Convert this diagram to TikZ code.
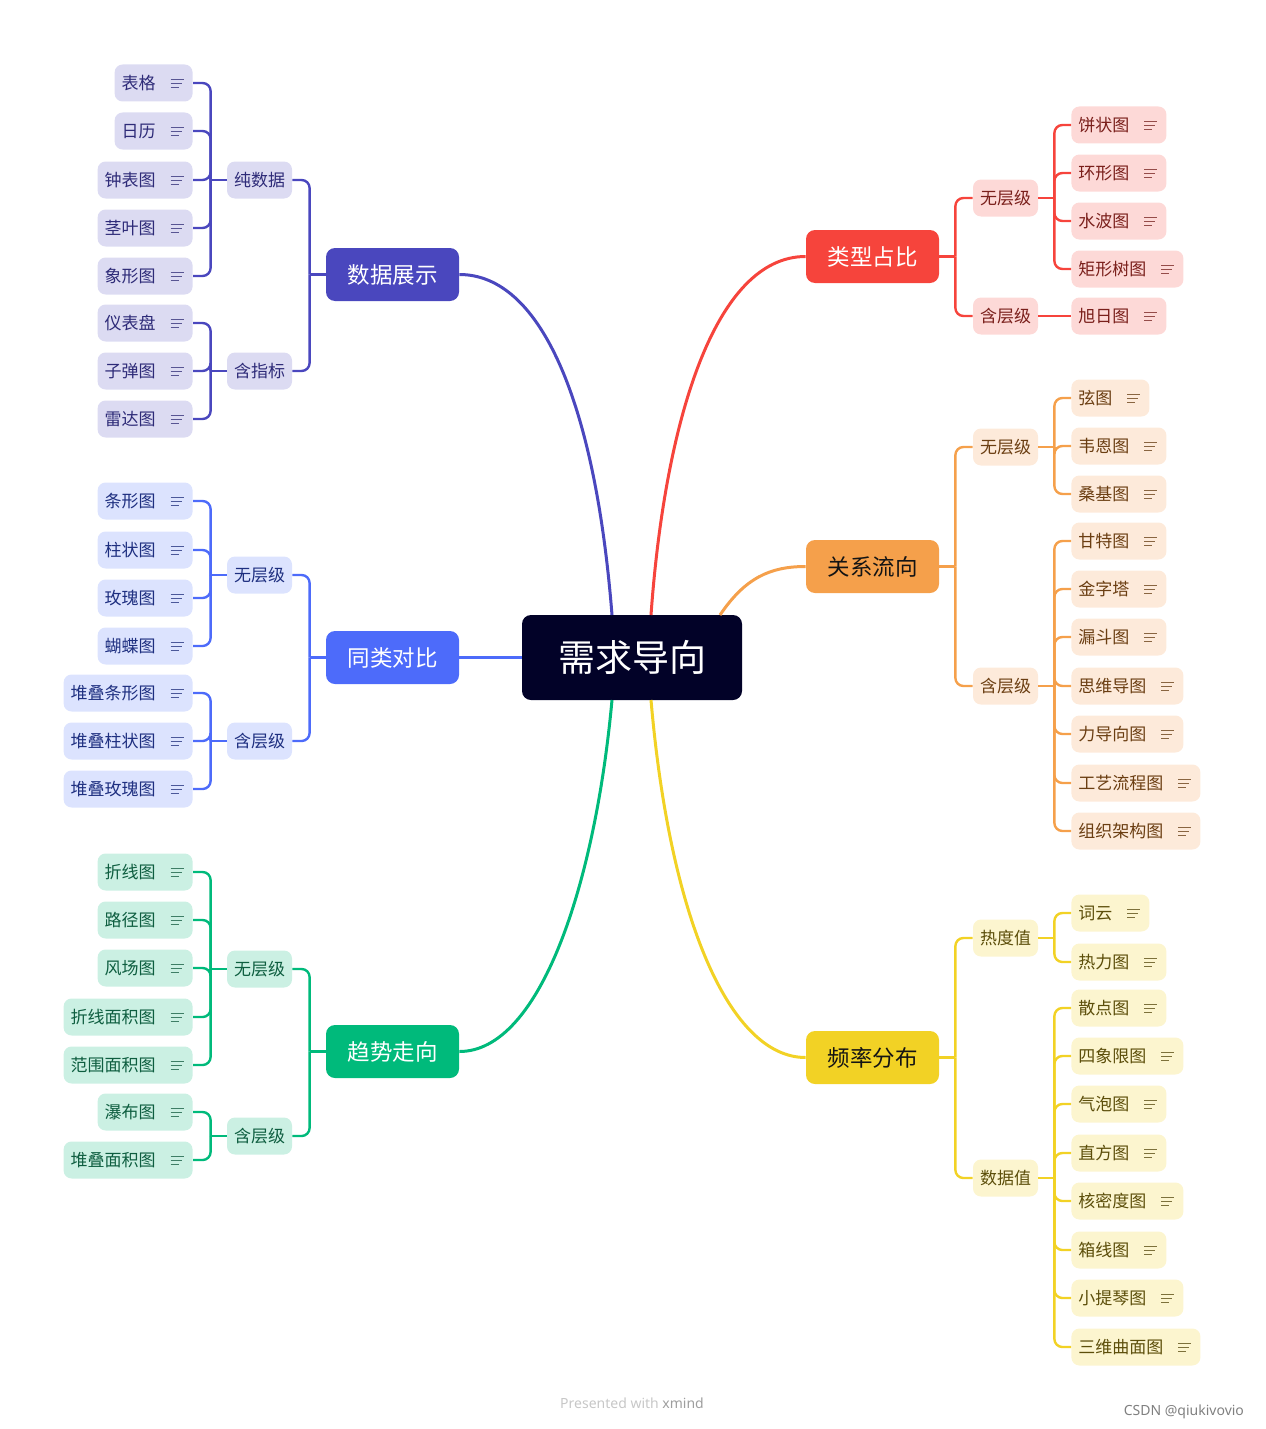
\documentclass[tikz,border=0pt]{standalone}
\usepackage{fontspec}
\setmainfont{Noto Sans CJK SC}
\newfontfamily\wmfont{Noto Sans}
\usepackage{xcolor}
\usetikzlibrary{positioning}

% branch colours: line / leaf fill / leaf text / head text
\definecolor{rootFill}{HTML}{020228}
\definecolor{sjLine}{HTML}{4A47BE}\definecolor{sjFill}{HTML}{DCDBF2}\definecolor{sjText}{HTML}{2E2B78}\colorlet{sjHead}{white}
\definecolor{tlLine}{HTML}{4D6BFA}\definecolor{tlFill}{HTML}{DCE3FE}\definecolor{tlText}{HTML}{1E2F80}\colorlet{tlHead}{white}
\definecolor{qsLine}{HTML}{00BA7B}\definecolor{qsFill}{HTML}{CBF0E3}\definecolor{qsText}{HTML}{0E5E40}\colorlet{qsHead}{white}
\definecolor{lxLine}{HTML}{F6443C}\definecolor{lxFill}{HTML}{FDD9D7}\definecolor{lxText}{HTML}{7A1F1B}\colorlet{lxHead}{white}
\definecolor{gxLine}{HTML}{F5A04B}\definecolor{gxFill}{HTML}{FDEADA}\definecolor{gxText}{HTML}{6B3E12}\definecolor{gxHead}{HTML}{141414}
\definecolor{plLine}{HTML}{F2D225}\definecolor{plFill}{HTML}{FCF5CF}\definecolor{plText}{HTML}{5C4E0A}\definecolor{plHead}{HTML}{141414}

\tikzset{
  leaf/.style={fill=#1Fill, text=#1Text, rounded corners=4pt, inner xsep=3.5pt, inner ysep=0pt,
    minimum height=18.5pt, font=\fontsize{8.5pt}{10pt}\selectfont,
    execute at end node={\hspace{15pt}},
    path picture={
      \draw[#1Text!80, line width=0.45pt, sharp corners]
        ([xshift=-11pt,yshift=2pt]path picture bounding box.east) -- ++(6.5pt,0)
        ([xshift=-11pt]path picture bounding box.east) -- ++(5.5pt,0)
        ([xshift=-11pt,yshift=-2pt]path picture bounding box.east) -- ++(4pt,0);}},
  subnode/.style={fill=#1Fill, text=#1Text, rounded corners=4pt, inner xsep=3.5pt, inner ysep=0pt,
    minimum height=18.5pt, font=\fontsize{8.5pt}{10pt}\selectfont},
  mainnode/.style={fill=#1Line, text=#1Head, rounded corners=4.5pt, minimum width=66.5pt,
    minimum height=26.5pt, font=\fontsize{11.25pt}{13pt}\selectfont},
  link/.style={draw=#1Line, line width=1.2pt, rounded corners=4pt},
  curve/.style={draw=#1Line, line width=1.5pt},
}

\begin{document}
\begin{tikzpicture}[x=0.5pt, y=-0.5pt]
  \useasboundingbox (0,0) rectangle (1265,1429);

  % root
  \node[fill=rootFill, text=white, rounded corners=4.5pt, minimum width=110pt, minimum height=42.5pt,
    font=\fontsize{18.5pt}{20pt}\selectfont] (root) at (632,657.5) {需求导向};

  % main topics
  \node[mainnode=sj] (sj) at (392.5,274.5) {数据展示};
  \node[mainnode=tl] (tl) at (392.5,657.5) {同类对比};
  \node[mainnode=qs] (qs) at (392.5,1051.5) {趋势走向};
  \node[mainnode=lx] (lx) at (872.5,256.5) {类型占比};
  \node[mainnode=gx] (gx) at (872.5,566.5) {关系流向};
  \node[mainnode=pl] (pl) at (872.5,1057.5) {频率分布};

  \coordinate (rootNW) at (612,615);
  \coordinate (rootNE) at (651,615);
  \coordinate (rootOR) at (720,615);
  \coordinate (rootSW) at (612,700);
  \coordinate (rootSE) at (651,700);
  \draw[curve=sj] (rootNW) .. controls (595,400) and (540,274.5) .. (sj.east);
  \draw[curve=lx] (rootNE) .. controls (665,420) and (715,256.5) .. (lx.west);
  \draw[curve=gx] (rootOR) .. controls (745,578) and (770,566.5) .. (gx.west);
  \draw[curve=tl] (root.west) -- (tl.east);
  \draw[curve=qs] (rootSW) .. controls (595,885) and (540,1051.5) .. (qs.east);
  \draw[curve=pl] (rootSE) .. controls (670,920) and (730,1057.5) .. (pl.west);

  % sub topics, left side
  \draw[link=sj] (sj.west) -- ++(-16,0);
  \foreach \nm/\yy/\txt in {sjA/180/纯数据, sjB/371/含指标} {
    \node[subnode=sj] (\nm) at (259.5,\yy) {\txt};
    \draw[link=sj] ([xshift=-8pt]sj.west) |- (\nm.east);
    \draw[link=sj] (\nm.west) -- ++(-16,0);
  }
  \draw[link=tl] (tl.west) -- ++(-16,0);
  \foreach \nm/\yy/\txt in {tlA/575/无层级, tlB/741/含层级} {
    \node[subnode=tl] (\nm) at (259.5,\yy) {\txt};
    \draw[link=tl] ([xshift=-8pt]tl.west) |- (\nm.east);
    \draw[link=tl] (\nm.west) -- ++(-16,0);
  }
  \draw[link=qs] (qs.west) -- ++(-16,0);
  \foreach \nm/\yy/\txt in {qsA/969/无层级, qsB/1136/含层级} {
    \node[subnode=qs] (\nm) at (259.5,\yy) {\txt};
    \draw[link=qs] ([xshift=-8pt]qs.west) |- (\nm.east);
    \draw[link=qs] (\nm.west) -- ++(-16,0);
  }

  % sub topics, right side
  \draw[link=lx] (lx.east) -- ++(16,0);
  \foreach \nm/\yy/\txt in {lxA/198/无层级, lxB/316/含层级} {
    \node[subnode=lx] (\nm) at (1005.5,\yy) {\txt};
    \draw[link=lx] ([xshift=8pt]lx.east) |- (\nm.west);
  }
  \draw[link=lx] (lxA.east) -- ++(16,0);
  \draw[link=gx] (gx.east) -- ++(16,0);
  \foreach \nm/\yy/\txt in {gxA/447/无层级, gxB/686/含层级} {
    \node[subnode=gx] (\nm) at (1005.5,\yy) {\txt};
    \draw[link=gx] ([xshift=8pt]gx.east) |- (\nm.west);
    \draw[link=gx] (\nm.east) -- ++(16,0);
  }
  \draw[link=pl] (pl.east) -- ++(16,0);
  \foreach \nm/\yy/\txt in {plA/938/热度值, plB/1178/数据值} {
    \node[subnode=pl] (\nm) at (1005.5,\yy) {\txt};
    \draw[link=pl] ([xshift=8pt]pl.east) |- (\nm.west);
    \draw[link=pl] (\nm.east) -- ++(16,0);
  }

  % leaves, left side
  \foreach \bb/\pn/\lst in {
      sj/sjA/{83/表格, 131/日历, 180/钟表图, 228/茎叶图, 276/象形图},
      sj/sjB/{323/仪表盘, 371/子弹图, 419/雷达图},
      tl/tlA/{501/条形图, 550/柱状图, 598/玫瑰图, 646/蝴蝶图},
      tl/tlB/{693/堆叠条形图, 741/堆叠柱状图, 789/堆叠玫瑰图},
      qs/qsA/{872/折线图, 920/路径图, 968/风场图, 1017/折线面积图, 1065/范围面积图},
      qs/qsB/{1112/瀑布图, 1160/堆叠面积图}} {
    \foreach \yy/\txt [count=\i] in \lst {
      \node[leaf=\bb, anchor=east] (\pn-\i) at (193,\yy) {\txt};
      \draw[link=\bb] ([xshift=-8pt]\pn.west) |- (\pn-\i.east);
    }
  }

  % leaves, right side
  \foreach \bb/\pn/\lst in {
      lx/lxA/{125/饼状图, 173/环形图, 221/水波图, 269/矩形树图},
      gx/gxA/{398/弦图, 446/韦恩图, 494/桑基图},
      gx/gxB/{541/甘特图, 589/金字塔, 637/漏斗图, 686/思维导图, 734/力导向图, 783/工艺流程图, 831/组织架构图},
      pl/plA/{913/词云, 962/热力图},
      pl/plB/{1008/散点图, 1056/四象限图, 1104/气泡图, 1153/直方图, 1201/核密度图, 1250/箱线图, 1298/小提琴图, 1347/三维曲面图}} {
    \foreach \yy/\txt [count=\i] in \lst {
      \node[leaf=\bb, anchor=west] (\pn-\i) at (1071,\yy) {\txt};
      \draw[link=\bb] ([xshift=8pt]\pn.east) |- (\pn-\i.west);
    }
  }
  % single leaf
  \node[leaf=lx, anchor=west] (lxB-1) at (1071,316) {旭日图};
  \draw[draw=lxLine, line width=1.2pt] (lxB.east) -- (lxB-1.west);

  % footer
  \node[text=black!22, font=\wmfont\fontsize{7pt}{8pt}\selectfont] (presented) at (632,1403)
    {Presented with \textcolor{black!38}{\textbf{xmind}}};
  \node[text=black!50, anchor=east, font=\wmfont\fontsize{7pt}{8pt}\selectfont] (csdn) at (1251,1412)
    {CSDN @qiukivovio};
\end{tikzpicture}
\end{document}
